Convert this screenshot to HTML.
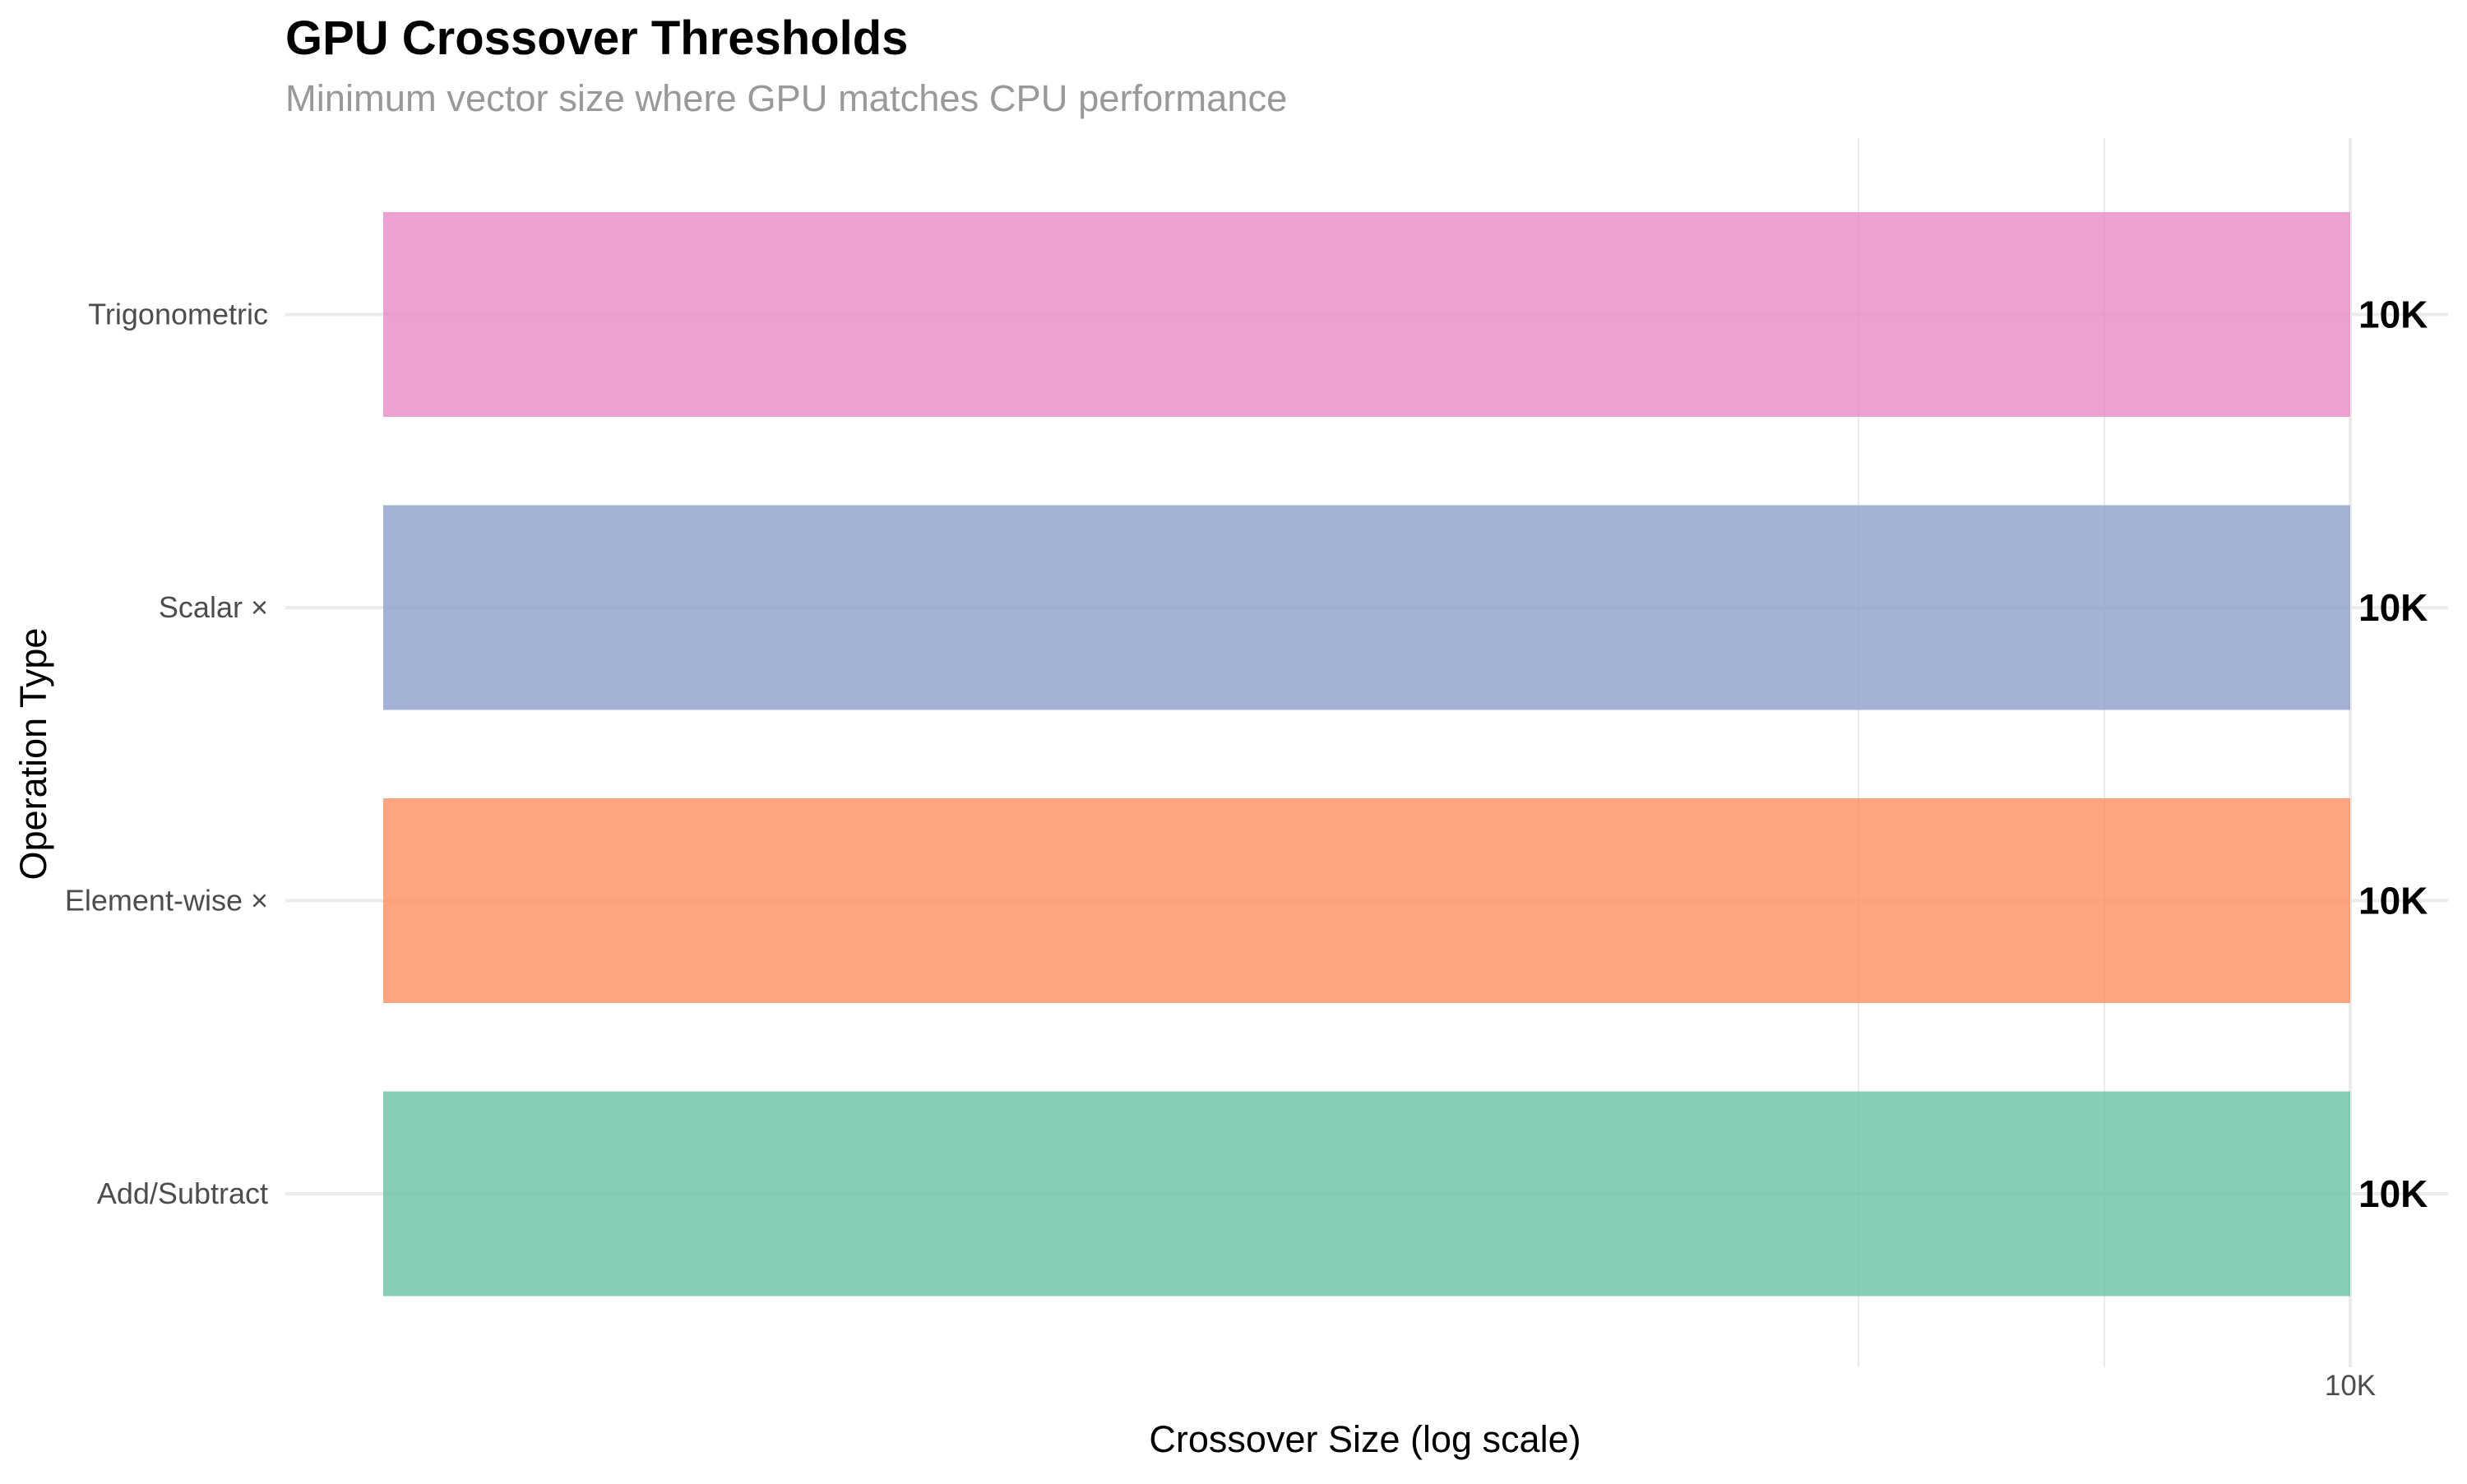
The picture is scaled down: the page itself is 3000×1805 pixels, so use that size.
<!DOCTYPE html>
<html><head><meta charset="utf-8"><style>
html,body{margin:0;padding:0;background:#fff;}
svg text{font-family:"Liberation Sans",Arial,sans-serif;}
</style></head><body>
<svg id="chart" width="3000" height="1800" viewBox="0 0 3000 1800" xmlns="http://www.w3.org/2000/svg">
<rect width="3000" height="1800" fill="#fff"/>
<text x="347" y="66" font-size="58" font-weight="bold" fill="#000">GPU Crossover Thresholds</text>
<text x="347" y="135" font-size="45.3" fill="#999999">Minimum vector size where GPU matches CPU performance</text>
<g id="grid"></g>
<g id="bars"></g>
<g id="labels"></g>
<g id="yticks"></g>
<g id="xticks"></g>
<text x="1660" y="1766" font-size="45" text-anchor="middle" fill="#000">Crossover Size (log scale)</text>
<text transform="translate(56,917) rotate(-90)" font-size="45" text-anchor="middle" fill="#000">Operation Type</text>
</svg>
<script>
const categories = ["Add/Subtract", "Element-wise ×", "Scalar ×", "Trigonometric"];
const values = [10000, 10000, 10000, 10000];
const valueLabels = ["10K", "10K", "10K", "10K"];
const colors = ["#66C2A5", "#FC8D62", "#8DA0CB", "#E78AC3"];
const xBreaks = [10000];
const xBreakLabels = ["10K"];
const xMinor = [1000, 3162.28];

const NS = "http://www.w3.org/2000/svg";
const panelL = 347, panelR = 2977, panelT = 168, panelB = 1663;
function xScale(v){ return 466 + Math.log10(v) * 598; }
function yScale(i){ return 1452 - i * 356.5; }
const barH = 249;
function mk(tag, attrs, parent){ const e=document.createElementNS(NS,tag); for(const k in attrs) e.setAttribute(k,attrs[k]); parent.appendChild(e); return e; }
const grid=document.getElementById('grid'), bars=document.getElementById('bars'), labels=document.getElementById('labels'), yt=document.getElementById('yticks'), xt=document.getElementById('xticks');

xMinor.forEach(v=>{
  const l=mk('line',{x1:xScale(v),x2:xScale(v),y1:panelT,y2:panelB,stroke:'#ebebeb','stroke-width':2},grid);
  
  
});
xBreaks.forEach((v,i)=>{
  const l=mk('line',{x1:xScale(v),x2:xScale(v),y1:panelT,y2:panelB,stroke:'#ebebeb','stroke-width':4},grid);
  
  
  const t=mk('text',{x:xScale(v),y:1697,'font-size':35,'text-anchor':'middle',fill:'#4d4d4d'},xt);
  t.textContent=xBreakLabels[i];
  
  
});
categories.forEach((c,i)=>{
  const y=yScale(i);
  const g=mk('line',{x1:panelL,x2:panelR,y1:y,y2:y,stroke:'#ebebeb','stroke-width':4},grid);
  
  
  const r=mk('rect',{x:xScale(1),y:y-barH/2,width:xScale(values[i])-xScale(1),height:barH,fill:colors[i],'fill-opacity':0.8},bars);
  
  
  const t=mk('text',{x:xScale(values[i])+10,y:y+16,'font-size':46,'font-weight':'bold',fill:'#000'},labels);
  t.textContent=valueLabels[i];
  
  
  const yl=mk('text',{x:326,y:y+12,'font-size':36,'text-anchor':'end',fill:'#4d4d4d'},yt);
  yl.textContent=c;
  
  
});
</script>
</body></html>
